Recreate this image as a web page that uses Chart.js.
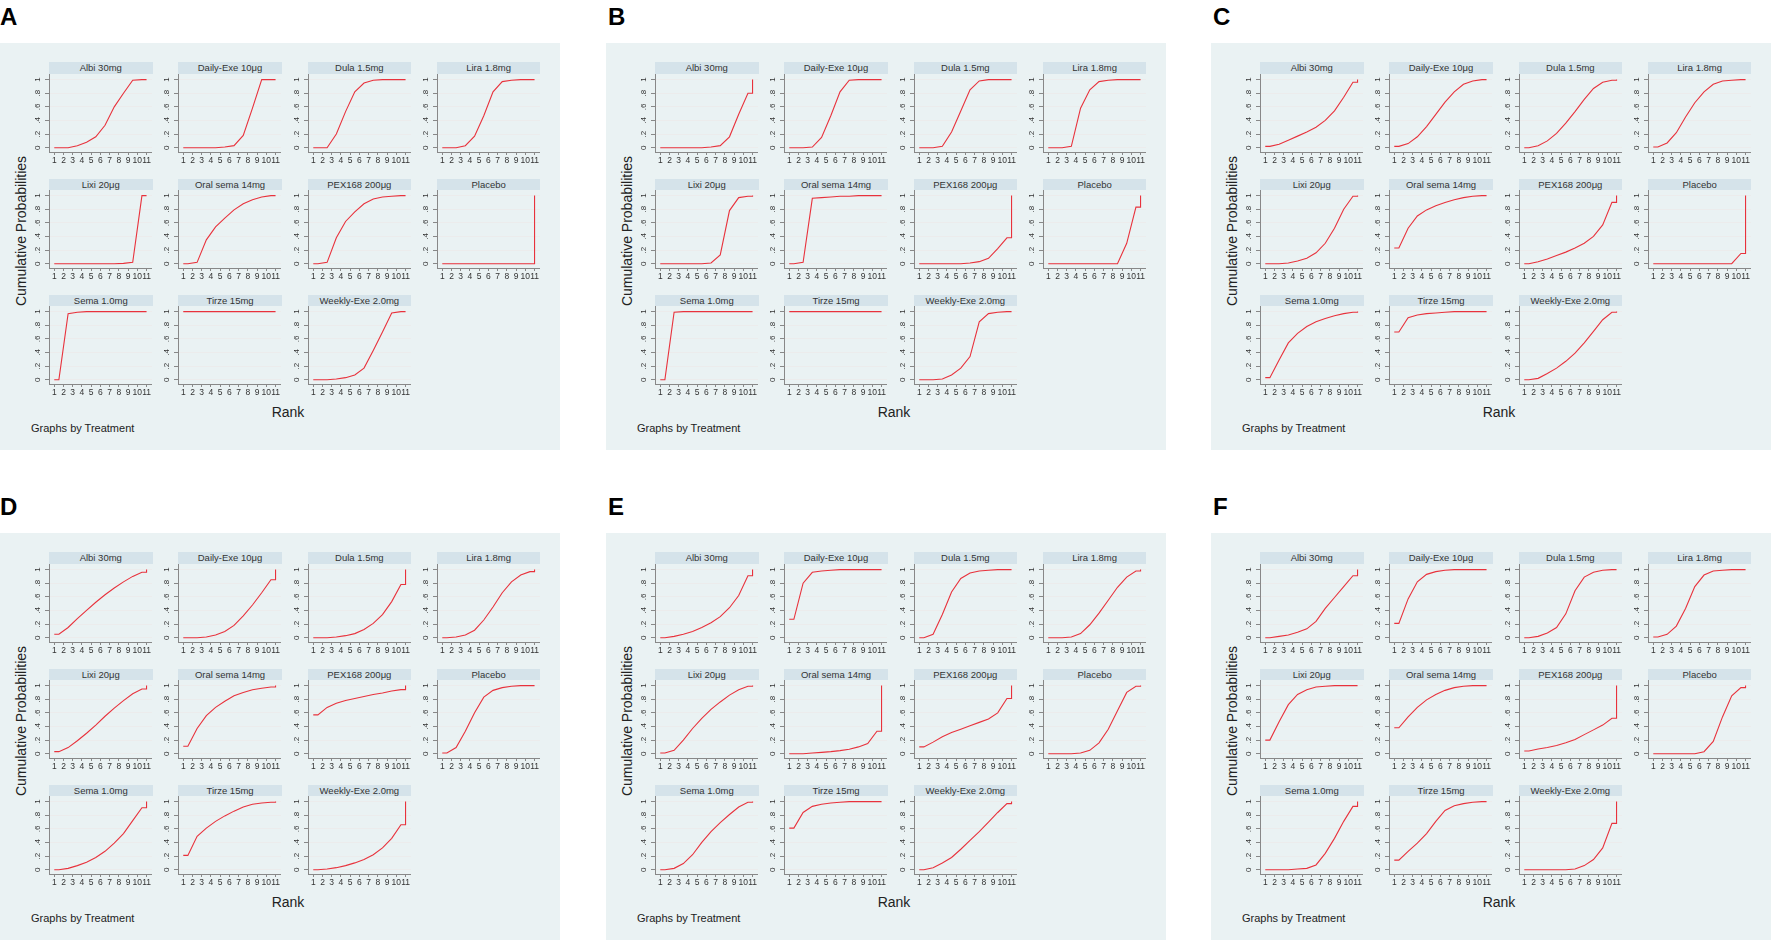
<!DOCTYPE html>
<html>
<head>
<meta charset="utf-8">
<script src="https://cdn.jsdelivr.net/npm/chart.js@4.4.1/dist/chart.umd.min.js"></script>
<style>
  body { margin: 0; background: #fff; font-family: "Liberation Sans", Arial, sans-serif; }
  #page { position: relative; width: 1772px; height: 941px; overflow: hidden; }
  .panel { position: absolute; width: 560px; height: 407px; background: #eaf2f3; }
  .letter { position: absolute; font-weight: bold; font-size: 24px; line-height: 24px; color: #000; }
  .strip { position: absolute; height: 11.4px; background: #d5e3ea; color: #333; font-size: 9.5px;
           line-height: 11.4px; text-align: center; white-space: nowrap; }
  .ytitle { position: absolute; font-size: 14px; color: #222; white-space: nowrap;
            transform: translate(-50%, -50%) rotate(-90deg); }
  .xtitle { position: absolute; font-size: 14px; color: #222; transform: translate(-50%, -50%); }
  .note { position: absolute; font-size: 11px; color: #222; transform: translateY(-50%); white-space: nowrap; }
  canvas { position: absolute; }
</style>
</head>
<body>
<div id="page"></div>
<script>
// treatments, in the order of the small multiples
const treatments = ['Albi 30mg', 'Daily-Exe 10μg', 'Dula 1.5mg', 'Lira 1.8mg',
                    'Lixi 20μg', 'Oral sema 14mg', 'PEX168 200μg', 'Placebo',
                    'Sema 1.0mg', 'Tirze 15mg', 'Weekly-Exe 2.0mg'];
const panelLetters = ['A', 'B', 'C', 'D', 'E', 'F'];
const rankTicks = [1, 2, 3, 4, 5, 6, 7, 8, 9, 10, 11];
const yTicks = [0, 0.2, 0.4, 0.6, 0.8, 1];
const yTickLabels = ['0', '.2', '.4', '.6', '.8', '1'];

// cumulative probability of rank <= 1..10 (rank 11 is always 1)
const cumA = [
  [0, 0, 0.03, 0.08, 0.16, 0.33, 0.6, 0.8, 0.99, 1],
  [0, 0, 0, 0, 0.01, 0.03, 0.18, 0.58, 1, 1],
  [0, 0, 0.2, 0.53, 0.82, 0.95, 0.99, 1, 1, 1],
  [0, 0, 0.03, 0.17, 0.47, 0.82, 0.97, 0.99, 1, 1],
  [0, 0, 0, 0, 0, 0, 0, 0.005, 0.02, 1],
  [0, 0.02, 0.35, 0.54, 0.67, 0.79, 0.88, 0.94, 0.98, 1],
  [0, 0.02, 0.38, 0.62, 0.76, 0.88, 0.95, 0.98, 0.99, 1],
  [0, 0, 0, 0, 0, 0, 0, 0, 0, 0],
  [0, 0.97, 0.99, 1, 1, 1, 1, 1, 1, 1],
  [1, 1, 1, 1, 1, 1, 1, 1, 1, 1],
  [0, 0, 0.01, 0.03, 0.07, 0.17, 0.43, 0.7, 0.98, 1]
];
const cumB = [
  [0, 0, 0, 0, 0, 0.01, 0.03, 0.16, 0.49, 0.8],
  [0, 0, 0.01, 0.15, 0.47, 0.82, 0.99, 1, 1, 1],
  [0, 0, 0.02, 0.23, 0.54, 0.85, 0.98, 1, 1, 1],
  [0, 0, 0.02, 0.58, 0.85, 0.97, 0.99, 1, 1, 1],
  [0, 0, 0, 0, 0, 0.01, 0.13, 0.78, 0.97, 0.99],
  [0, 0.02, 0.96, 0.97, 0.98, 0.99, 0.99, 1, 1, 1],
  [0, 0, 0, 0, 0, 0.01, 0.03, 0.08, 0.22, 0.38],
  [0, 0, 0, 0, 0, 0, 0, 0, 0.3, 0.83],
  [0, 0.99, 1, 1, 1, 1, 1, 1, 1, 1],
  [1, 1, 1, 1, 1, 1, 1, 1, 1, 1],
  [0, 0, 0.01, 0.07, 0.17, 0.34, 0.85, 0.97, 0.99, 1]
];
const cumC = [
  [0.02, 0.05, 0.11, 0.17, 0.23, 0.3, 0.4, 0.54, 0.74, 0.96],
  [0.02, 0.06, 0.16, 0.31, 0.49, 0.67, 0.82, 0.93, 0.98, 1],
  [0, 0.03, 0.1, 0.21, 0.36, 0.53, 0.71, 0.87, 0.96, 0.99],
  [0.01, 0.07, 0.22, 0.45, 0.66, 0.82, 0.93, 0.98, 0.99, 1],
  [0, 0, 0.01, 0.04, 0.08, 0.16, 0.3, 0.52, 0.8, 0.99],
  [0.23, 0.52, 0.7, 0.79, 0.85, 0.9, 0.94, 0.97, 0.99, 1],
  [0, 0.03, 0.07, 0.12, 0.17, 0.23, 0.3, 0.4, 0.57, 0.9],
  [0, 0, 0, 0, 0, 0, 0, 0, 0, 0.15],
  [0.03, 0.29, 0.54, 0.68, 0.78, 0.85, 0.9, 0.94, 0.97, 0.99],
  [0.7, 0.91, 0.95, 0.97, 0.98, 0.99, 1, 1, 1, 1],
  [0, 0.02, 0.09, 0.17, 0.27, 0.39, 0.54, 0.71, 0.88, 0.99]
];
const cumD = [
  [0.05, 0.15, 0.28, 0.4, 0.52, 0.63, 0.73, 0.82, 0.9, 0.96],
  [0, 0, 0.01, 0.04, 0.09, 0.18, 0.32, 0.48, 0.66, 0.85],
  [0, 0, 0.01, 0.03, 0.06, 0.12, 0.21, 0.34, 0.53, 0.78],
  [0, 0.01, 0.04, 0.11, 0.26, 0.45, 0.66, 0.82, 0.92, 0.97],
  [0.03, 0.09, 0.19, 0.3, 0.42, 0.55, 0.67, 0.78, 0.88, 0.95],
  [0.11, 0.37, 0.56, 0.68, 0.77, 0.85, 0.9, 0.94, 0.96, 0.98],
  [0.57, 0.68, 0.74, 0.78, 0.81, 0.84, 0.87, 0.89, 0.92, 0.94],
  [0.01, 0.09, 0.33, 0.6, 0.83, 0.93, 0.97, 0.99, 1, 1],
  [0, 0.02, 0.06, 0.11, 0.18, 0.27, 0.39, 0.53, 0.72, 0.91],
  [0.21, 0.49, 0.61, 0.71, 0.79, 0.86, 0.92, 0.96, 0.98, 0.99],
  [0, 0.01, 0.03, 0.06, 0.1, 0.15, 0.22, 0.32, 0.46, 0.66]
];
const cumE = [
  [0, 0.02, 0.05, 0.09, 0.15, 0.22, 0.31, 0.44, 0.62, 0.91],
  [0.27, 0.8, 0.96, 0.98, 0.99, 1, 1, 1, 1, 1],
  [0, 0.05, 0.34, 0.67, 0.87, 0.95, 0.98, 0.99, 1, 1],
  [0, 0, 0.01, 0.06, 0.19, 0.36, 0.55, 0.74, 0.89, 0.98],
  [0.01, 0.05, 0.2, 0.37, 0.52, 0.65, 0.76, 0.86, 0.94, 0.99],
  [0, 0, 0.01, 0.02, 0.03, 0.045, 0.065, 0.1, 0.15, 0.33],
  [0.1, 0.17, 0.25, 0.31, 0.36, 0.41, 0.46, 0.51, 0.6, 0.81],
  [0, 0, 0, 0.01, 0.05, 0.16, 0.36, 0.63, 0.9, 0.99],
  [0, 0.02, 0.09, 0.22, 0.4, 0.56, 0.69, 0.81, 0.92, 0.99],
  [0.61, 0.84, 0.93, 0.96, 0.98, 0.99, 1, 1, 1, 1],
  [0, 0.03, 0.1, 0.18, 0.3, 0.43, 0.56, 0.7, 0.84, 0.97]
];
const cumF = [
  [0, 0.02, 0.04, 0.08, 0.13, 0.24, 0.43, 0.59, 0.75, 0.91],
  [0.21, 0.57, 0.82, 0.93, 0.97, 0.99, 1, 1, 1, 1],
  [0, 0.02, 0.07, 0.15, 0.35, 0.69, 0.89, 0.96, 0.99, 1],
  [0.01, 0.05, 0.17, 0.43, 0.75, 0.92, 0.98, 0.99, 1, 1],
  [0.2, 0.47, 0.72, 0.87, 0.94, 0.98, 0.99, 1, 1, 1],
  [0.38, 0.54, 0.68, 0.79, 0.87, 0.93, 0.97, 0.99, 1, 1],
  [0.04, 0.07, 0.09, 0.12, 0.16, 0.21, 0.28, 0.35, 0.42, 0.52],
  [0, 0, 0, 0, 0, 0.03, 0.18, 0.54, 0.85, 0.97],
  [0, 0, 0, 0.01, 0.02, 0.07, 0.24, 0.46, 0.71, 0.93],
  [0.14, 0.27, 0.39, 0.53, 0.71, 0.87, 0.94, 0.97, 0.99, 1],
  [0, 0, 0, 0, 0, 0.01, 0.06, 0.15, 0.32, 0.68]
];
const panels = [cumA, cumB, cumC, cumD, cumE, cumF];

// layout (px)
const panelLeft = [0, 606, 1211];
const panelTop = [43, 533];
const colLeft = [49, 178.3, 307.6, 436.9];
const stripTop = [19.3, 135.5, 251.7];
const stripH = 11.4, plotW = 103.5, plotH = 78.3;
const yAxisW = 20, xAxisH = 17;
const FONT = '"Liberation Sans", Arial, sans-serif';

// stata-like curve: value at rank k drawn at k + 0.5, closed at 11
function curvePoints(cum) {
  const pts = [{x: rankTicks[0], y: cum[0]}];
  cum.forEach((p, i) => pts.push({x: rankTicks[i] + 0.5, y: p}));
  const last = rankTicks[rankTicks.length - 1];
  pts.push({x: last, y: cum[cum.length - 1]});
  pts.push({x: last, y: 1});
  return pts;
}

const rotatedYLabels = {
  id: 'rotatedYLabels',
  afterDraw(chart) {
    const ys = chart.scales.y, ctx = chart.ctx;
    ctx.save();
    ctx.font = '8px ' + FONT;
    ctx.fillStyle = '#333';
    ctx.textAlign = 'center';
    ctx.textBaseline = 'middle';
    yTicks.forEach((v, i) => {
      ctx.save();
      ctx.translate(chart.chartArea.left - 11, ys.getPixelForValue(v));
      ctx.rotate(-Math.PI / 2);
      ctx.fillText(yTickLabels[i], 0, 0);
      ctx.restore();
    });
    ctx.restore();
  }
};

const page = document.getElementById('page');
function addDiv(cls, text, style) {
  const d = document.createElement('div');
  d.className = cls;
  d.textContent = text;
  Object.assign(d.style, style);
  page.appendChild(d);
  return d;
}

panels.forEach((cum, p) => {
  const px = panelLeft[p % 3], py = panelTop[Math.floor(p / 3)];
  addDiv('panel', '', {left: px + 'px', top: py + 'px'});
  addDiv('letter', panelLetters[p], {left: (px + (p % 3 ? 2 : 0)) + 'px', top: (py - 38) + 'px'});
  addDiv('ytitle', 'Cumulative Probabilities', {left: (px + 21) + 'px', top: (py + 188) + 'px'});
  addDiv('xtitle', 'Rank', {left: (px + 288) + 'px', top: (py + 369) + 'px'});
  addDiv('note', 'Graphs by Treatment', {left: (px + 31) + 'px', top: (py + 385) + 'px'});

  treatments.forEach((name, t) => {
    const cx = px + colLeft[t % 4], cy = py + stripTop[Math.floor(t / 4)];
    addDiv('strip', name, {left: cx + 'px', top: cy + 'px', width: plotW + 'px'});

    const cv = document.createElement('canvas');
    cv.width = plotW + yAxisW;
    cv.height = plotH + xAxisH;
    cv.style.left = (cx - yAxisW) + 'px';
    cv.style.top = (cy + stripH) + 'px';
    page.appendChild(cv);

    new Chart(cv, {
      type: 'line',
      data: {
        datasets: [{
          data: curvePoints(cum[t]),
          borderColor: '#e8323c',
          borderWidth: 1.1,
          pointRadius: 0,
          tension: 0,
          fill: false
        }]
      },
      options: {
        responsive: false,
        animation: false,
        events: [],
        layout: {padding: 0},
        plugins: {legend: {display: false}, tooltip: {enabled: false}},
        scales: {
          x: {
            type: 'linear',
            min: 0.43, max: 11.59,
            afterBuildTicks: s => { s.ticks = rankTicks.map(v => ({value: v})); },
            afterFit: s => { s.height = xAxisH; },
            ticks: {font: {size: 8.5, family: FONT}, color: '#333', padding: 1,
                    maxRotation: 0, minRotation: 0, autoSkip: false},
            grid: {drawOnChartArea: false, tickLength: 3, color: '#888'},
            border: {color: '#888', width: 1}
          },
          y: {
            min: -0.063, max: 1.082,
            afterBuildTicks: s => { s.ticks = yTicks.map(v => ({value: v})); },
            afterFit: s => { s.width = yAxisW; },
            ticks: {display: false},
            grid: {color: '#ececec', tickColor: '#888', tickLength: 4},
            border: {color: '#888', width: 1}
          }
        }
      },
      plugins: [rotatedYLabels]
    });
  });
});
</script>
</body>
</html>
